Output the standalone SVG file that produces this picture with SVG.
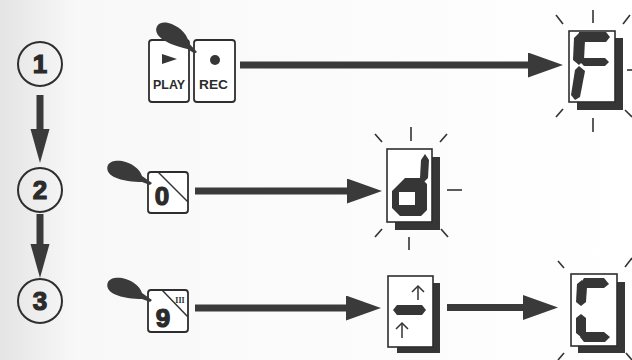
<svg xmlns="http://www.w3.org/2000/svg" width="632" height="360" viewBox="0 0 632 360">
<style>
.ink{fill:#363636}
.circ{fill:none;stroke:#2e2e2e;stroke-width:2}
.num{font-family:"Liberation Sans",Arial,sans-serif;font-weight:bold;font-size:26px;fill:#2b2b2b;stroke:#2b2b2b;stroke-width:1.2;text-anchor:middle}
.btn{fill:#fff;stroke:#2e2e2e;stroke-width:1.8}
.lbl{font-family:"Liberation Sans",Arial,sans-serif;font-weight:bold;font-size:12px;fill:#2b2b2b}
.front{fill:#fff;stroke:#2e2e2e;stroke-width:1.6}
.ray{stroke:#333;stroke-width:1.6;fill:none}
.shaft{stroke:#3a3a3a;stroke-width:7;fill:none}
.thin{stroke:#333;stroke-width:1.5;fill:none}
</style>
<defs>
<linearGradient id="bg" x1="0" y1="0" x2="1" y2="0">
<stop offset="0" stop-color="#e4e4e4"/>
<stop offset="0.12" stop-color="#f8f8f8"/>
<stop offset="1" stop-color="#ffffff"/>
</linearGradient>
<marker id="headH" markerUnits="userSpaceOnUse" markerWidth="40" markerHeight="30" refX="2" refY="12.5" orient="auto">
<path d="M0,0 L35,12.5 L0,25 Z" fill="#3a3a3a"/>
</marker>
<marker id="headV" markerUnits="userSpaceOnUse" markerWidth="40" markerHeight="24" refX="2" refY="9.5" orient="auto">
<path d="M0,0 L34,9.5 L0,19 Z" fill="#3a3a3a"/>
</marker>
<path id="hand" d="M0,0 L-10,-7 C-12,-14 -20,-20 -30,-22 C-36,-23 -42,-22 -44,-18 C-46,-14 -44,-9 -38,-6 C-30,-2 -18,-1 -10,-1 L-2,2 Z" fill="#3a3a3a"/>
</defs>
<rect width="632" height="360" fill="url(#bg)"/>

<g id="connectors">
<line class="shaft" x1="40" y1="95" x2="40" y2="131" marker-end="url(#headV)"/>
<line class="shaft" x1="40" y1="214" x2="40" y2="246" marker-end="url(#headV)"/>
<line class="shaft" x1="240" y1="65" x2="530" y2="65" marker-end="url(#headH)"/>
<line class="shaft" x1="195" y1="191" x2="349" y2="191" marker-end="url(#headH)"/>
<line class="shaft" x1="195" y1="308" x2="348" y2="308" marker-end="url(#headH)"/>
<line class="shaft" x1="447" y1="307.5" x2="525" y2="307.5" marker-end="url(#headH)"/>
</g>

<g id="step1">
<circle class="circ" cx="40" cy="64" r="22"/>
<text class="num" x="40" y="73">1</text>
</g>
<g id="step2">
<circle class="circ" cx="40" cy="190" r="22"/>
<text class="num" x="40" y="199">2</text>
</g>
<g id="step3">
<circle class="circ" cx="40" cy="301" r="22"/>
<text class="num" x="40" y="310">3</text>
</g>

<g id="btn-play-rec">
<rect class="btn" x="149" y="40" width="40" height="62" rx="3"/>
<rect class="btn" x="194" y="40" width="41" height="62" rx="3"/>
<path d="M162,54 L177,59 L162,64 Z" class="ink"/>
<circle cx="215" cy="60" r="5" class="ink"/>
<text class="lbl" x="153" y="89" textLength="32" lengthAdjust="spacingAndGlyphs">PLAY</text>
<text class="lbl" x="199" y="89" textLength="29" lengthAdjust="spacingAndGlyphs">REC</text>
<use href="#hand" transform="translate(197,52) rotate(12)"/>
</g>

<g id="display-F">
<rect class="ink" x="577" y="38" width="46" height="72"/>
<rect class="front" x="569" y="31" width="46" height="71"/>
<polygon class="ink" points="579,32 606,32 610,37 606,42 584,42 579,37"/>
<polygon class="ink" points="574,38 579,33 585,40 584,60 579,65 573,60"/>
<polygon class="ink" points="584,58 605,58 609,62 605,66 584,66 580,62"/>
<polygon class="ink" points="579,66 585,71 580,97 575,100 571,95 575,70"/>
<line class="ray" x1="593" y1="10" x2="593" y2="23"/>
<line class="ray" x1="556" y1="15" x2="563" y2="24"/>
<line class="ray" x1="630" y1="15" x2="623" y2="24"/>
<line class="ray" x1="627" y1="70" x2="632" y2="70"/>
<line class="ray" x1="556" y1="117" x2="563" y2="109"/>
<line class="ray" x1="625" y1="110" x2="632" y2="117"/>
<line class="ray" x1="593" y1="118" x2="593" y2="132"/>
</g>

<g id="btn-0">
<rect class="btn" x="148" y="172" width="40" height="41" rx="3"/>
<line class="thin" x1="158" y1="172" x2="188" y2="202"/>
<text class="num" x="162" y="205">0</text>
<use href="#hand" transform="translate(152,183)"/>
</g>

<g id="display-d">
<rect class="ink" x="395" y="157" width="45" height="73"/>
<rect class="front" x="387" y="149" width="45" height="73"/>
<polygon class="ink" points="421,160 425,154 429,160 428,178 424,182 420,178"/>
<path class="ink" fill-rule="evenodd" d="M405,178 L421,178 L427,184 L427,210 L421,216 L400,216 L392,208 L392,191 Z M399,192 L415,192 L415,205 L399,205 Z"/>
<line class="ray" x1="411" y1="127" x2="411" y2="141"/>
<line class="ray" x1="375" y1="134" x2="382" y2="142"/>
<line class="ray" x1="447" y1="134" x2="440" y2="142"/>
<line class="ray" x1="447" y1="190" x2="462" y2="190"/>
<line class="ray" x1="409" y1="237" x2="409" y2="250"/>
<line class="ray" x1="375" y1="237" x2="382" y2="229"/>
<line class="ray" x1="448" y1="237" x2="441" y2="229"/>
</g>

<g id="btn-9">
<rect class="btn" x="148" y="290" width="40" height="42" rx="3"/>
<line class="thin" x1="162" y1="290" x2="188" y2="317"/>
<text class="num" x="163" y="327">9</text>
<text x="180" y="303" font-family="Liberation Serif,serif" font-size="8" font-weight="bold" fill="#2b2b2b" text-anchor="middle">III</text>
<use href="#hand" transform="translate(152,300)"/>
</g>

<g id="display-updown">
<rect class="ink" x="397" y="283" width="43" height="70"/>
<rect class="front" x="388" y="276" width="45" height="71"/>
<line class="thin" x1="418" y1="287" x2="418" y2="300"/>
<polyline class="thin" points="412,292 418,286 424,292"/>
<polygon class="ink" points="393,310 397,305 422,305 426,310 422,315 397,315"/>
<line class="thin" x1="402" y1="324" x2="402" y2="338"/>
<polyline class="thin" points="396,329 402,323 408,329"/>
</g>

<g id="display-C">
<rect class="ink" x="578" y="282" width="47" height="71"/>
<rect class="front" x="571" y="274" width="46" height="72"/>
<polygon class="ink" points="584,278 604,278 609,284 604,288 586,288 581,283"/>
<polygon class="ink" points="577,284 582,280 587,287 586,302 581,306 576,302"/>
<polygon class="ink" points="576,318 581,314 586,318 586,333 581,337 576,333"/>
<polygon class="ink" points="584,332 604,332 610,337 605,342 584,342 580,337"/>
<line class="ray" x1="558" y1="261" x2="564" y2="268"/>
<line class="ray" x1="632" y1="258" x2="625" y2="267"/>
<line class="ray" x1="558" y1="360" x2="564" y2="353"/>
<line class="ray" x1="626" y1="353" x2="632" y2="360"/>
</g>
</svg>
